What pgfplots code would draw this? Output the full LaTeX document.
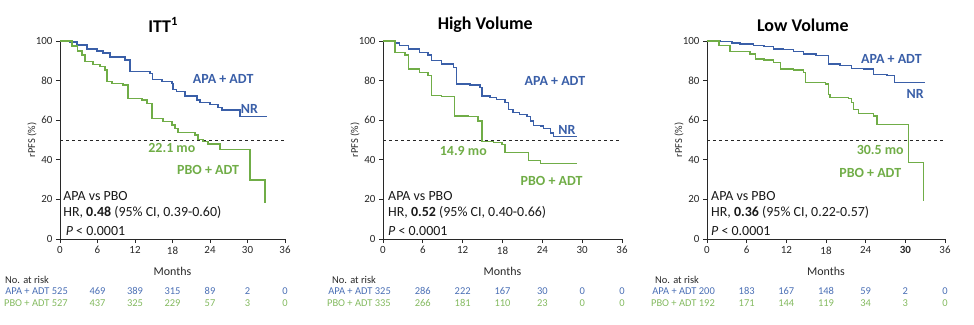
\documentclass[border=0pt]{standalone}
\usepackage{pgfplots}
\pgfplotsset{compat=1.18}
\usepackage{fontspec}
\setmainfont{Carlito}
\definecolor{apa}{RGB}{58,95,168}
\definecolor{pbo}{RGB}{112,173,71}
\definecolor{apat}{RGB}{74,111,181}
\definecolor{pbot}{RGB}{132,186,96}
\definecolor{ax}{RGB}{40,40,40}

\pgfplotsset{kmaxis/.style={
  scale only axis, height=198bp, anchor=south west,
  xmin=0,xmax=36,ymin=0,ymax=100,
  xtick={0,6,...,36}, ytick={0,20,...,100},
  axis lines=left, axis line style={-, line width=0.7pt, ax},
  tick style={line width=0.7pt, ax}, tick align=outside, major tick length=4bp,
  /pgf/number format/assume math mode=true,
  ticklabel style={font=\fontsize{11}{12}\selectfont, text=ax},
  clip=false,
},
apaline/.style={const plot, apa, line width=1.35pt, mark=none},
pboline/.style={const plot, pbo, line width=1.35pt, mark=none},
}
\tikzset{
lbl/.style={font=\bfseries\fontsize{14}{16}\selectfont, inner sep=0pt},
info/.style={font=\fontsize{14}{16}\selectfont, anchor=west, inner sep=0pt, text=black!90},
}

\newcommand\riskrow[9]{%
  \node[text=#1,font=\fontsize{10.5}{12}\selectfont,anchor=east,inner sep=0pt] at ([yshift=#2,xshift=8bp]axis cs:0,0) {#3};
  \node[text=#1,font=\fontsize{10.5}{12}\selectfont,inner sep=0pt] at ([yshift=#2]axis cs:6,0) {#4};
  \node[text=#1,font=\fontsize{10.5}{12}\selectfont,inner sep=0pt] at ([yshift=#2]axis cs:12,0) {#5};
  \node[text=#1,font=\fontsize{10.5}{12}\selectfont,inner sep=0pt] at ([yshift=#2]axis cs:18,0) {#6};
  \node[text=#1,font=\fontsize{10.5}{12}\selectfont,inner sep=0pt] at ([yshift=#2]axis cs:24,0) {#7};
  \node[text=#1,font=\fontsize{10.5}{12}\selectfont,inner sep=0pt] at ([yshift=#2]axis cs:30,0) {#8};
  \node[text=#1,font=\fontsize{10.5}{12}\selectfont,inner sep=0pt] at ([yshift=#2]axis cs:36,0) {#9};
}
\newcommand\decor[3]{% title, title x, nat-risk shift
  \node[font=\bfseries\fontsize{18}{20}\selectfont,text=black] at ([yshift=16bp]axis cs:#2,100) {#1};
  \node[font=\fontsize{10.5}{12}\selectfont,rotate=90,text=ax] at ([xshift=-28bp]axis cs:0,50) {rPFS (\%)};
  \node[font=\fontsize{12}{13}\selectfont,text=ax] at ([yshift=-32bp]axis cs:18,0) {Months};
  \node[font=\fontsize{10.5}{12}\selectfont,anchor=west,inner sep=0pt,text=ax] at ([yshift=-41bp,xshift=#3]axis cs:0,0) {No. at risk};
  \addplot[dashed, black!85, line width=0.7pt] coordinates {(0,50) (36,50)};
}

\begin{document}
\begin{tikzpicture}
\path (0bp,0bp) rectangle (974bp,325bp);

% ---------------- ITT
\begin{axis}[kmaxis, at={(60bp,86bp)}, width=225bp]
\decor{ITT\textsuperscript{1}}{16.5}{-55bp}
\addplot[apaline] coordinates {(0,100)(1.5,99.5)(2.7,98)(4.3,96)(5.9,95)(6.9,94)(8,92)(10.4,90.4)(11.2,84.5)(14.4,83.5)(14.8,80.5)(16.3,79.5)(17.9,78.6)(18.1,75.5)(18.6,74.4)(20,72.2)(21.9,70.2)(22.4,69)(24,68)(25.3,66.5)(25.9,65.2)(28.8,62)(33.1,62)};
\addplot[pboline] coordinates {(0,100)(1.9,97.5)(2.8,95)(3.5,93)(4,89.6)(5.3,88)(6.4,87)(7.2,85.4)(7.5,79.5)(8.3,78.6)(10.1,77.8)(10.9,71)(13.1,70.2)(13.9,68.5)(14.7,61)(16.5,59.3)(17.9,57.6)(18.4,55.9)(18.9,53.9)(21.6,52.5)(22.1,50.3)(22.9,49.2)(23.7,48)(25.6,45.3)(30.4,29.8)(32.8,18)};
\node[lbl,apa] at (axis cs:26.1,80.8) {APA + ADT};
\node[lbl,apa] at (axis cs:30.3,65.5) {NR};
\node[lbl,pbo] at (axis cs:17.9,45.8) {22.1 mo};
\node[lbl,pbo] at (axis cs:23.7,34.8) {PBO + ADT};
\node[info] at (axis cs:0.5,21.7) {APA vs PBO};
\node[info] at (axis cs:0.5,13.3) {HR, \textbf{0.48} (95\% CI, 0.39-0.60)};
\node[info] at (axis cs:0.9,3.9) {\textit{P} < 0.0001};
\riskrow{apat}{-52bp}{APA + ADT 525}{469}{389}{315}{89}{2}{0}
\riskrow{pbot}{-64bp}{PBO + ADT 527}{437}{325}{229}{57}{3}{0}
\end{axis}

% ---------------- High Volume
\begin{axis}[kmaxis, at={(383bp,86bp)}, width=239bp]
\decor{High Volume}{15.4}{-51bp}
\addplot[apaline] coordinates {(0,100)(1.8,99)(2.5,97.6)(3.8,95.9)(5.5,94.2)(6.8,92.9)(7.3,90)(8.8,88.3)(10.6,86.6)(11.1,78.2)(13.1,77.7)(14.6,76.5)(14.9,72.3)(16.1,71.4)(17.1,70.6)(18.4,68.9)(18.9,65.5)(19.6,63.8)(20.6,62.9)(21.7,61.8)(22.2,59.6)(22.7,57.4)(23.7,57)(24.2,55.7)(25.2,53.6)(25.7,51.9)(29.2,51.9)};
\addplot[pboline] coordinates {(0,100)(1.8,94.2)(3.3,92.9)(3.8,85.8)(5.5,84.1)(6.8,82.7)(7.3,72.6)(8.8,71.9)(10.8,62.1)(12.8,61.8)(14.3,59.6)(14.9,49.4)(16.6,48.6)(17.9,47.7)(18.4,43.8)(21.9,39.8)(23.7,38.1)(29.2,38.1)};
\node[lbl,apa] at (axis cs:25.9,79.9) {APA + ADT};
\node[lbl,apa] at (axis cs:27.7,55.3) {NR};
\node[lbl,pbo] at (axis cs:12.1,44.3) {14.9 mo};
\node[lbl,pbo] at (axis cs:25.4,29.1) {PBO + ADT};
\node[info] at (axis cs:0.75,21.7) {APA vs PBO};
\node[info] at (axis cs:0.75,13.3) {HR, \textbf{0.52} (95\% CI, 0.40-0.66)};
\node[info] at (axis cs:0.75,3.9) {\textit{P} < 0.0001};
\riskrow{apat}{-52bp}{APA + ADT 325}{286}{222}{167}{30}{0}{0}
\riskrow{pbot}{-64bp}{PBO + ADT 335}{266}{181}{110}{23}{0}{0}
\end{axis}

% ---------------- Low Volume
\begin{axis}[kmaxis, at={(707bp,86bp)}, width=238bp, xticklabels={0,6,12,18,24,\textbf{30},36}]
\decor{Low Volume}{14.5}{-52bp}
\addplot[apaline] coordinates {(0,100)(2,99.7)(3.8,99)(5,98.5)(7,97.6)(8.6,97.1)(10.1,95.9)(11.6,95.6)(13.1,94.6)(14.6,93.4)(16.5,92.6)(18.4,88.3)(20.1,87.5)(21.9,86.1)(23.7,85.8)(25.2,83.2)(27.2,82.7)(28.4,79)(33,79)};
\addplot[pboline] coordinates {(0,100)(1.8,97.6)(3.5,94.6)(6.5,93.4)(7.3,90.9)(8.6,90.4)(10.1,89.2)(11.1,85.8)(13.1,85.3)(14.6,84.1)(14.9,79)(17.9,78.2)(18.4,73.1)(18.6,71.4)(21.4,70.9)(21.9,68.9)(22.2,65.5)(22.9,63.3)(25.2,62.1)(25.7,57.9)(30.5,38.8)(32.7,19)};
\node[lbl,apa] at (axis cs:27.9,90.9) {APA + ADT};
\node[lbl,apa] at (axis cs:31.5,73.1) {NR};
\node[lbl,pbo] at (axis cs:26.2,45.2) {30.5 mo};
\node[lbl,pbo] at (axis cs:24.7,33.3) {PBO + ADT};
\node[info] at (axis cs:0.6,21.7) {APA vs PBO};
\node[info] at (axis cs:0.6,13.3) {HR, \textbf{0.36} (95\% CI, 0.22-0.57)};
\node[info] at (axis cs:0.6,3.9) {\textit{P} < 0.0001};
\riskrow{apat}{-52bp}{APA + ADT 200}{183}{167}{148}{59}{2}{0}
\riskrow{pbot}{-64bp}{PBO + ADT 192}{171}{144}{119}{34}{3}{0}
\end{axis}
\end{tikzpicture}
\end{document}
